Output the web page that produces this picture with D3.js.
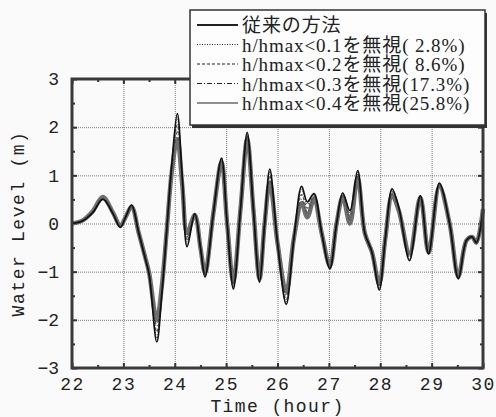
<!DOCTYPE html>
<html>
<head>
<meta charset="utf-8">
<script src="https://cdn.jsdelivr.net/npm/d3@7"></script>
<style>
  body { margin: 0; background: #fafafa; }
  svg { display: block; }
  .tick-label { font-family: "Liberation Mono", "DejaVu Sans Mono", monospace; font-size: 18px; fill: #222; }
  .legend-text { font-family: "Liberation Serif", "Noto Sans CJK JP", serif; font-size: 19px; letter-spacing: 0.9px; fill: #222; white-space: pre; }
</style>
</head>
<body>
<div id="chart"></div>
<script>
// time axis (hour) shared by all series
const times = [22.0, 22.2, 22.4, 22.6, 22.8, 22.94, 23.05, 23.16, 23.3, 23.42, 23.5, 23.65, 23.75, 23.84, 23.94,
    24.05, 24.15, 24.24, 24.39, 24.5, 24.59, 24.75, 24.91, 25.02, 25.14, 25.28, 25.41, 25.53, 25.65, 25.75,
    25.85, 26.0, 26.17, 26.32, 26.47, 26.58, 26.71, 26.86, 27.02, 27.15, 27.27, 27.41, 27.56, 27.7, 27.84,
    27.98, 28.1, 28.23, 28.36, 28.57, 28.78, 28.94, 29.15, 29.35, 29.52, 29.68, 29.79, 29.87, 30.0];

// water level (m)
const conventional = [0, 0.05, 0.22, 0.5, 0.2, -0.08, 0.15, 0.38, -0.2, -0.7, -1.05, -2.46, -1.45, -0.2, 1.2,
    2.28, 0.9, -0.48, 0.2, -0.5, -1.11, 0.2, 1.36, 0.0, -1.36, 0.3, 1.89, 0.3, -1.22, 0.0,
    1.13, -0.4, -1.68, -0.3, 0.77, 0.45, 0.62, -0.2, -0.94, 0.0, 0.63, 0.27, 1.1, -0.2, -0.6,
    -1.38, -0.3, 0.72, 0.34, -0.77, 0.58, -0.63, 0.84, 0.0, -1.15, -0.35, -0.28, -0.4, 0.3];
const skip01 = [0, 0.05, 0.22, 0.51, 0.2, -0.08, 0.15, 0.38, -0.2, -0.7, -1.05, -2.38, -1.42, -0.2, 1.18,
    2.2, 0.88, -0.42, 0.2, -0.5, -1.1, 0.2, 1.35, 0.0, -1.33, 0.3, 1.86, 0.3, -1.21, 0.0,
    1.08, -0.4, -1.64, -0.3, 0.7, 0.4, 0.6, -0.2, -0.93, 0.0, 0.62, 0.22, 1.06, -0.2, -0.6,
    -1.37, -0.3, 0.7, 0.33, -0.74, 0.57, -0.62, 0.83, 0.0, -1.14, -0.35, -0.28, -0.4, 0.3];
const skip02 = [0, 0.05, 0.23, 0.52, 0.21, -0.07, 0.15, 0.37, -0.2, -0.7, -1.04, -2.25, -1.38, -0.2, 1.15,
    2.05, 0.85, -0.35, 0.2, -0.5, -1.08, 0.2, 1.33, 0.0, -1.3, 0.3, 1.82, 0.3, -1.2, 0.0,
    1.0, -0.4, -1.58, -0.3, 0.6, 0.32, 0.57, -0.2, -0.92, 0.0, 0.6, 0.15, 1.02, -0.2, -0.6,
    -1.35, -0.3, 0.66, 0.31, -0.7, 0.56, -0.61, 0.82, 0.0, -1.13, -0.35, -0.28, -0.4, 0.3];
const skip03 = [0, 0.06, 0.24, 0.53, 0.21, -0.06, 0.15, 0.36, -0.2, -0.69, -1.03, -2.12, -1.33, -0.2, 1.1,
    1.9, 0.8, -0.28, 0.19, -0.5, -1.05, 0.2, 1.3, 0.0, -1.25, 0.3, 1.78, 0.3, -1.18, 0.0,
    0.93, -0.4, -1.5, -0.3, 0.5, 0.22, 0.55, -0.2, -0.9, 0.0, 0.58, 0.07, 0.98, -0.2, -0.6,
    -1.3, -0.3, 0.62, 0.29, -0.66, 0.55, -0.6, 0.8, 0.0, -1.12, -0.35, -0.28, -0.4, 0.3];
const skip04 = [0, 0.06, 0.25, 0.55, 0.22, -0.05, 0.15, 0.35, -0.2, -0.68, -1.02, -2.0, -1.28, -0.2, 1.05,
    1.75, 0.75, -0.2, 0.18, -0.5, -1.02, 0.2, 1.27, 0.0, -1.2, 0.3, 1.75, 0.3, -1.15, 0.0,
    0.85, -0.4, -1.42, -0.3, 0.42, 0.13, 0.5, -0.2, -0.88, 0.0, 0.55, 0.0, 0.95, -0.2, -0.6,
    -1.25, -0.3, 0.58, 0.27, -0.62, 0.54, -0.6, 0.77, 0.0, -1.1, -0.35, -0.28, -0.4, 0.3];

const legendLabels = ['従来の方法', 'h/hmax<0.1を無視( 2.8%)', 'h/hmax<0.2を無視( 8.6%)',
    'h/hmax<0.3を無視(17.3%)', 'h/hmax<0.4を無視(25.8%)'];
const xTicks = [22, 23, 24, 25, 26, 27, 28, 29, 30];
const yTicks = [-3, -2, -1, 0, 1, 2, 3];

const W = 496, H = 417;
const mLeft = 72, mRight = 483, mTop = 79, mBottom = 368;

const x = d3.scaleLinear().domain([22, 30]).range([mLeft, mRight]);
const y = d3.scaleLinear().domain([-3, 3]).range([mBottom, mTop]);

const svg = d3.select('#chart').append('svg').attr('width', W).attr('height', H);

// grid (dotted)
svg.append('g').attr('class', 'grid')
    .attr('transform', `translate(0,${mBottom})`)
    .call(d3.axisBottom(x).tickValues(xTicks.slice(1, -1)).tickSize(-(mBottom - mTop)).tickFormat(''))
    .call(g => g.select('.domain').remove())
    .call(g => g.selectAll('line').attr('stroke', '#777').attr('stroke-width', 1).attr('stroke-dasharray', '1,1'));
svg.append('g').attr('class', 'grid')
    .attr('transform', `translate(${mLeft},0)`)
    .call(d3.axisLeft(y).tickValues(yTicks.slice(1, -1)).tickSize(-(mRight - mLeft)).tickFormat(''))
    .call(g => g.select('.domain').remove())
    .call(g => g.selectAll('line').attr('stroke', '#777').attr('stroke-width', 1).attr('stroke-dasharray', '1,1'));

// inner ticks on all four sides
const minorX = d3.range(22.5, 30, 1);
const minorY = d3.range(-2.5, 3, 1);
function innerTicks(axisFn, scale, vals, size, tr) {
    svg.append('g').attr('transform', tr)
        .call(axisFn(scale).tickValues(vals).tickSize(size).tickFormat(''))
        .call(g => g.select('.domain').remove())
        .call(g => g.selectAll('line').attr('stroke', '#333').attr('stroke-width', 2));
}
innerTicks(d3.axisTop, x, xTicks, 5, `translate(0,${mBottom})`);
innerTicks(d3.axisTop, x, minorX, 3, `translate(0,${mBottom})`);
innerTicks(d3.axisBottom, x, xTicks, 5, `translate(0,${mTop})`);
innerTicks(d3.axisBottom, x, minorX, 3, `translate(0,${mTop})`);
innerTicks(d3.axisRight, y, yTicks, 5, `translate(${mLeft},0)`);
innerTicks(d3.axisRight, y, minorY, 3, `translate(${mLeft},0)`);
innerTicks(d3.axisLeft, y, yTicks, 5, `translate(${mRight},0)`);
innerTicks(d3.axisLeft, y, minorY, 3, `translate(${mRight},0)`);

// tick labels
svg.append('g').attr('transform', `translate(0,${mBottom})`)
    .call(d3.axisBottom(x).tickValues(xTicks).tickSize(0).tickPadding(9).tickFormat(d3.format('d')))
    .call(g => g.select('.domain').remove())
    .call(g => g.selectAll('text').attr('class', 'tick-label').attr('letter-spacing', 1.5).attr('fill', '#222'));
svg.append('g').attr('transform', `translate(${mLeft},0)`)
    .call(d3.axisLeft(y).tickValues(yTicks).tickSize(0).tickPadding(13).tickFormat(d3.format('d')))
    .call(g => g.select('.domain').remove())
    .call(g => g.selectAll('text').attr('class', 'tick-label').attr('fill', '#222'));

// axis titles
svg.append('text').attr('class', 'tick-label')
    .attr('x', (mLeft + mRight) / 2).attr('y', 412)
    .attr('text-anchor', 'middle').attr('letter-spacing', 1.4)
    .text('Time (hour)');
svg.append('text').attr('class', 'tick-label')
    .attr('transform', `translate(24,${(mTop + mBottom) / 2}) rotate(-90)`)
    .attr('text-anchor', 'middle').attr('letter-spacing', 1.6)
    .text('Water Level (m)');

// series
const series = [
    { values: skip04, stroke: '#6e6e6e', width: 4.4, dash: null },
    { values: skip03, stroke: '#555', width: 1.3, dash: '4,2,1,2' },
    { values: skip02, stroke: '#555', width: 1.3, dash: '3,2' },
    { values: skip01, stroke: '#555', width: 1.3, dash: '1,1.5' },
    { values: conventional, stroke: '#111', width: 1.7, dash: null }
];
const line = d3.line()
    .x(d => x(d[0]))
    .y(d => y(d[1]))
    .curve(d3.curveCatmullRom.alpha(0.5));

const plot = svg.append('g');
for (const s of series) {
    plot.append('path')
        .datum(times.map((t, i) => [t, s.values[i]]))
        .attr('fill', 'none')
        .attr('stroke', s.stroke)
        .attr('stroke-width', s.width)
        .attr('stroke-dasharray', s.dash)
        .attr('stroke-linejoin', 'round')
        .attr('d', line);
}

// frame
svg.append('rect')
    .attr('x', mLeft).attr('y', mTop)
    .attr('width', mRight - mLeft).attr('height', mBottom - mTop)
    .attr('fill', 'none').attr('stroke', '#3a3a3a').attr('stroke-width', 3);

// legend
const lg = svg.append('g').attr('transform', 'translate(190,10)');
lg.append('rect').attr('x', 2).attr('y', 3).attr('width', 295).attr('height', 115).attr('fill', '#333');
lg.append('rect').attr('x', 0).attr('y', 0).attr('width', 295).attr('height', 115)
    .attr('fill', '#fdfdfd').attr('stroke', '#333').attr('stroke-width', 1.5);

const legendStyles = [
    { width: 2, dash: null },
    { width: 1, dash: '1,1.5' },
    { width: 1, dash: '3,2' },
    { width: 1, dash: '5,2,1,2' },
    { width: 1, dash: null }
];
legendLabels.forEach((label, i) => {
    const yy = 15 + i * 19.5;
    lg.append('line')
        .attr('x1', 7).attr('x2', 48).attr('y1', yy).attr('y2', yy)
        .attr('stroke', '#222')
        .attr('stroke-width', legendStyles[i].width)
        .attr('stroke-dasharray', legendStyles[i].dash);
    lg.append('text').attr('class', 'legend-text')
        .attr('x', 52).attr('y', yy + 7)
        .text(label);
});
</script>
</body>
</html>
